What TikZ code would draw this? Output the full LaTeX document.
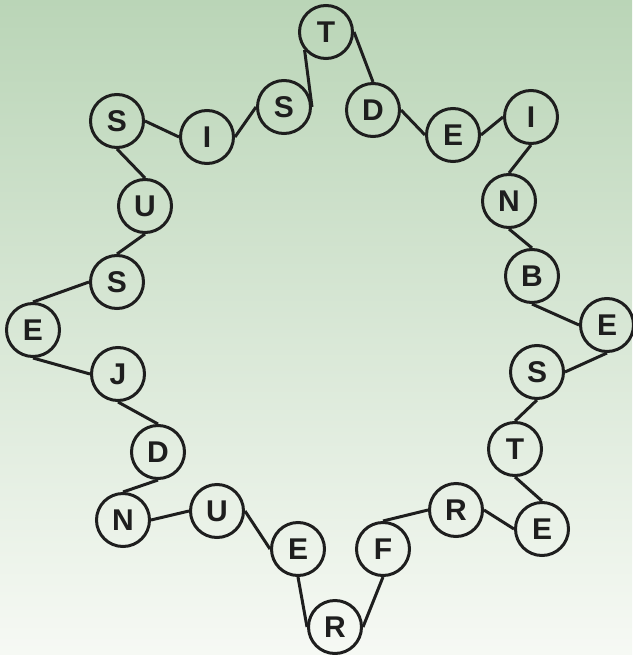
\documentclass[tikz,border=0pt]{standalone}
\usepackage{fontspec}
\setmainfont{Liberation Sans}
\definecolor{bgtop}{RGB}{186,213,183}
\definecolor{bgmid}{RGB}{210,228,206}
\definecolor{bgbot}{RGB}{246,249,244}
\definecolor{ink}{RGB}{30,30,30}
\tikzset{
  letter/.style={circle, draw=ink, line width=3pt, minimum size=53pt, inner sep=0pt,
    text=ink, font=\fontsize{30}{30}\selectfont\bfseries},
  link/.style={draw=ink, line width=3pt}
}
\begin{document}
\begin{tikzpicture}[x=1pt,y=-1pt]
\shade[top color=bgtop, middle color=bgmid, bottom color=bgbot] (0,0) rectangle (632,655);
\useasboundingbox (0,0) rectangle (632,655);
\node[letter] (t1) at (326,32) {T};
\node[letter] (d1) at (373,110) {D};
\node[letter] (e1) at (453,135) {E};
\node[letter] (i1) at (531,117) {I};
\node[letter] (n1) at (509,201) {N};
\node[letter] (b1) at (532,276) {B};
\node[letter] (e2) at (607,325) {E};
\node[letter] (s1) at (537,372) {S};
\node[letter] (t2) at (515,449) {T};
\node[letter] (e3) at (542,529) {E};
\node[letter] (r1) at (456,510) {R};
\node[letter] (f1) at (383,549) {F};
\node[letter] (r2) at (335,627) {R};
\node[letter] (e4) at (298,549) {E};
\node[letter] (u1) at (217,511) {U};
\node[letter] (n2) at (123,520) {N};
\node[letter] (d2) at (158,452) {D};
\node[letter] (j1) at (118,374) {J};
\node[letter] (e5) at (33,330) {E};
\node[letter] (s2) at (117,282) {S};
\node[letter] (u2) at (145,206) {U};
\node[letter] (s3) at (117,121) {S};
\node[letter] (i2) at (207,137) {I};
\node[letter] (s4) at (284,107) {S};
\draw[link] (t1.east) -- (d1.north);
\draw[link] (d1.east) -- (e1.west);
\draw[link] (e1.east) -- (i1.west);
\draw[link] (i1.south) -- (n1.north);
\draw[link] (n1.south) -- (b1.north);
\draw[link] (b1.south) -- (e2.west);
\draw[link] (e2.south) -- (s1.east);
\draw[link] (s1.south) -- (t2.north);
\draw[link] (t2.south) -- (e3.north);
\draw[link] (e3.west) -- (r1.east);
\draw[link] (r1.west) -- (f1.north);
\draw[link] (f1.south) -- (r2.east);
\draw[link] (r2.west) -- (e4.south);
\draw[link] (e4.west) -- (u1.east);
\draw[link] (u1.west) -- (n2.east);
\draw[link] (n2.north) -- (d2.south);
\draw[link] (d2.north) -- (j1.south);
\draw[link] (j1.west) -- (e5.south);
\draw[link] (e5.north) -- (s2.west);
\draw[link] (s2.north) -- (u2.south);
\draw[link] (u2.north) -- (s3.south);
\draw[link] (s3.east) -- (i2.west);
\draw[link] (i2.east) -- (s4.west);
\draw[link] (s4.east) -- (t1.220);
\end{tikzpicture}
\end{document}
